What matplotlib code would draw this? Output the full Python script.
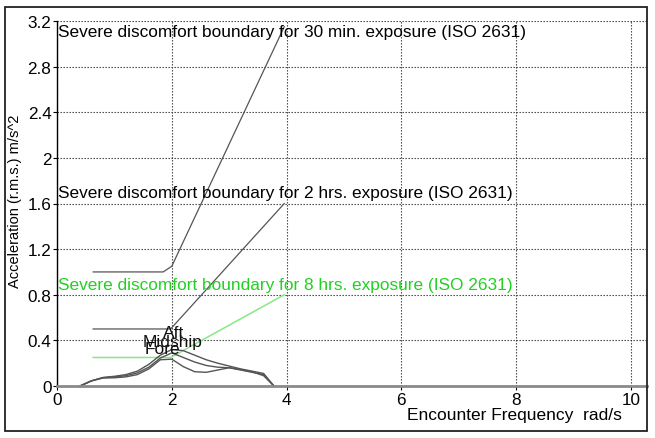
import matplotlib
matplotlib.use("Agg")
import matplotlib.pyplot as plt
from matplotlib.patches import Rectangle

plt.rcParams['font.family'] = ['Liberation Sans', 'DejaVu Sans']

# Data
freq_resp = [0.40, 0.60, 0.80, 1.0, 1.2, 1.4, 1.6, 1.8, 2.0, 2.2, 2.4, 2.6, 2.8, 3.0, 3.2, 3.4, 3.6, 3.78]
aft = [0, 0.045, 0.075, 0.085, 0.10, 0.13, 0.19, 0.27, 0.32, 0.31, 0.27, 0.23, 0.20, 0.175, 0.15, 0.13, 0.11, 0]
midship = [0, 0.045, 0.072, 0.08, 0.09, 0.115, 0.165, 0.245, 0.29, 0.25, 0.21, 0.18, 0.165, 0.16, 0.14, 0.12, 0.10, 0]
fore = [0, 0.045, 0.07, 0.072, 0.08, 0.10, 0.15, 0.23, 0.235, 0.17, 0.125, 0.12, 0.14, 0.16, 0.145, 0.125, 0.09, 0]

b30_x = [0.63, 1.85, 2.0, 3.96]
b30_y = [1.0, 1.0, 1.05, 3.15]
b2_x = [0.63, 1.98, 3.96]
b2_y = [0.5, 0.5, 1.6]
b8_x = [0.63, 1.98, 3.96]
b8_y = [0.25, 0.25, 0.8]

labels_boundary = ["Severe discomfort boundary for 30 min. exposure (ISO 2631)",
                   "Severe discomfort boundary for 2 hrs. exposure (ISO 2631)",
                   "Severe discomfort boundary for 8 hrs. exposure (ISO 2631)"]
label_y = [3.11, 1.70, 0.89]

xticks = [0, 2, 4, 6, 8, 10]
yticks = [0, 0.4, 0.8, 1.2, 1.6, 2.0, 2.4, 2.8, 3.2]
ytick_labels = ["0", "0.4", "0.8", "1.2", "1.6", "2", "2.4", "2.8", "3.2"]

W, H = 655, 439
fig = plt.figure(figsize=(W / 100, H / 100), dpi=100)
fig.patch.set_facecolor('white')
ax = fig.add_axes([57 / W, 52 / H, 590 / W, 365 / H])

ax.set_xlim(0, 10.28)
ax.set_ylim(0, 3.2)

line_gray = '#555555'
ax.plot(b30_x, b30_y, color=line_gray, lw=0.9)
ax.plot(b2_x, b2_y, color=line_gray, lw=0.9)
ax.plot(b8_x, b8_y, color='#88e888', lw=1.1)

ax.plot(freq_resp, aft, color=line_gray, lw=1.0)
ax.plot(freq_resp, midship, color=line_gray, lw=1.0)
ax.plot(freq_resp, fore, color=line_gray, lw=1.0)

colors = ['black', 'black', '#22d022']
for t, yy, c in zip(labels_boundary, label_y, colors):
    ax.text(0.01, yy, t, color=c, fontsize=12.45, ha='left', va='center')

ax.text(1.85, 0.47, "Aft", fontsize=12.5, ha='left', va='center', color='#111111')
ax.text(1.50, 0.39, "Midship", fontsize=12.5, ha='left', va='center', color='#111111')
ax.text(1.53, 0.33, "Fore", fontsize=12.5, ha='left', va='center', color='#111111')

ax.set_xticks(xticks)
ax.set_xticklabels([str(v) for v in xticks])
ax.set_yticks(yticks)
ax.set_yticklabels(ytick_labels)
ax.tick_params(axis='both', labelsize=12.3, length=3, width=0.8, pad=1, colors='black')
ax.grid(True, linestyle=(0, (1.2, 1.5)), color='#333333', lw=0.8)
ax.set_axisbelow(True)

ax.spines['top'].set_visible(False)
ax.spines['right'].set_visible(False)
ax.spines['left'].set_color('black')
ax.spines['left'].set_linewidth(1.0)
ax.spines['bottom'].set_color('#8a8a8a')
ax.spines['bottom'].set_linewidth(2.0)

fig.text(15 / W, 1 - 201 / H, "Acceleration (r.m.s.) m/s^2", rotation=90,
         fontsize=10.5, ha='center', va='center')
fig.text(622 / W, 1 - 416 / H, "Encounter Frequency  rad/s", fontsize=12.5,
         ha='right', va='center')

fig.patches.append(Rectangle((5 / W, 7 / H), 642 / W, 424 / H, transform=fig.transFigure,
                             fill=False, edgecolor='#222222', lw=1.3))

fig.savefig("out.png", dpi=100)
